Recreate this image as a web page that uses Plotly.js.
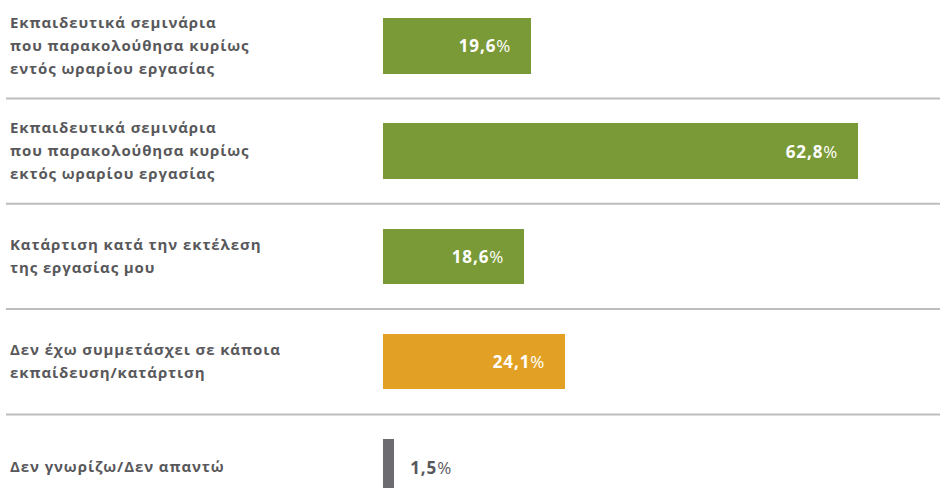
<!DOCTYPE html>
<html>
<head>
<meta charset="utf-8">
<script src="https://cdn.plot.ly/plotly-3.0.1.min.js"></script>
<style>
html,body{margin:0;padding:0;background:#fff;}
#chart{width:940px;height:488px;}
#chart .annotation-text{letter-spacing:0.9px;}
</style>
</head>
<body>
<div id="chart"></div>
<script>
var categories = [
  "Εκπαιδευτικά σεμινάρια<br>που παρακολούθησα κυρίως<br>εντός ωραρίου εργασίας",
  "Εκπαιδευτικά σεμινάρια<br>που παρακολούθησα κυρίως<br>εκτός ωραρίου εργασίας",
  "Κατάρτιση κατά την εκτέλεση<br>της εργασίας μου",
  "Δεν έχω συμμετάσχει σε κάποια<br>εκπαίδευση/κατάρτιση",
  "Δεν γνωρίζω/Δεν απαντώ"
];
var values = [19.6, 62.8, 18.6, 24.1, 1.5];
var valueLabels = ["19,6", "62,8", "18,6", "24,1", "1,5"];
var barColors = ["#7a9a37", "#7a9a37", "#7a9a37", "#e2a125", "#6c6b70"];

var W = 940, H = 488, L = 383;
var plotW = W - L;
var FONT = "Open Sans, Noto Sans, sans-serif";
var TEXT = "#58585b";
var LINE = 23;

var ids = categories.map(function(_, i){ return i; });

var trace = {
  type: "bar",
  orientation: "h",
  x: values,
  y: ids,
  width: 0.527,
  marker: {color: barColors, line: {width: 0}},
  hoverinfo: "skip"
};

var annotations = [];
var shapes = [];
categories.forEach(function(c, i){
  var lines = c.split("<br>");
  lines.forEach(function(t, j){
    annotations.push({
      xref: "paper", yref: "y",
      x: (8 - L) / plotW, y: i,
      xanchor: "left", yanchor: "middle", align: "left",
      yshift: -((j - (lines.length - 1) / 2) * LINE) + 1,
      text: "<b>" + t + "</b>",
      showarrow: false,
      font: {family: FONT, size: 15, color: TEXT}
    });
  });
  var inside = values[i] > 5;
  annotations.push({
    xref: "x", yref: "y",
    x: values[i], y: i,
    xanchor: inside ? "right" : "left", yanchor: "middle",
    xshift: inside ? -20 : 16,
    text: "<b>" + valueLabels[i] + "</b>%",
    showarrow: false,
    font: {family: FONT, size: 17, color: inside ? "#ffffff" : TEXT}
  });
  if (i < categories.length - 1) {
    shapes.push({
      type: "line", xref: "paper", yref: "y",
      x0: (6 - L) / plotW, x1: 1, y0: i + 0.5, y1: i + 0.5,
      line: {color: "#bdbdbd", width: 2}
    });
  }
});

var layout = {
  width: W, height: H,
  margin: {l: L, r: 0, t: 0, b: 0, pad: 0},
  paper_bgcolor: "#ffffff", plot_bgcolor: "#ffffff",
  showlegend: false,
  bargap: 0,
  xaxis: {range: [0, 73.64], visible: false, fixedrange: true},
  yaxis: {type: "linear", range: [4.199, -0.435], visible: false, fixedrange: true},
  annotations: annotations,
  shapes: shapes,
  hovermode: false
};

Plotly.newPlot("chart", [trace], layout, {displayModeBar: false, staticPlot: true});
</script>
</body>
</html>
